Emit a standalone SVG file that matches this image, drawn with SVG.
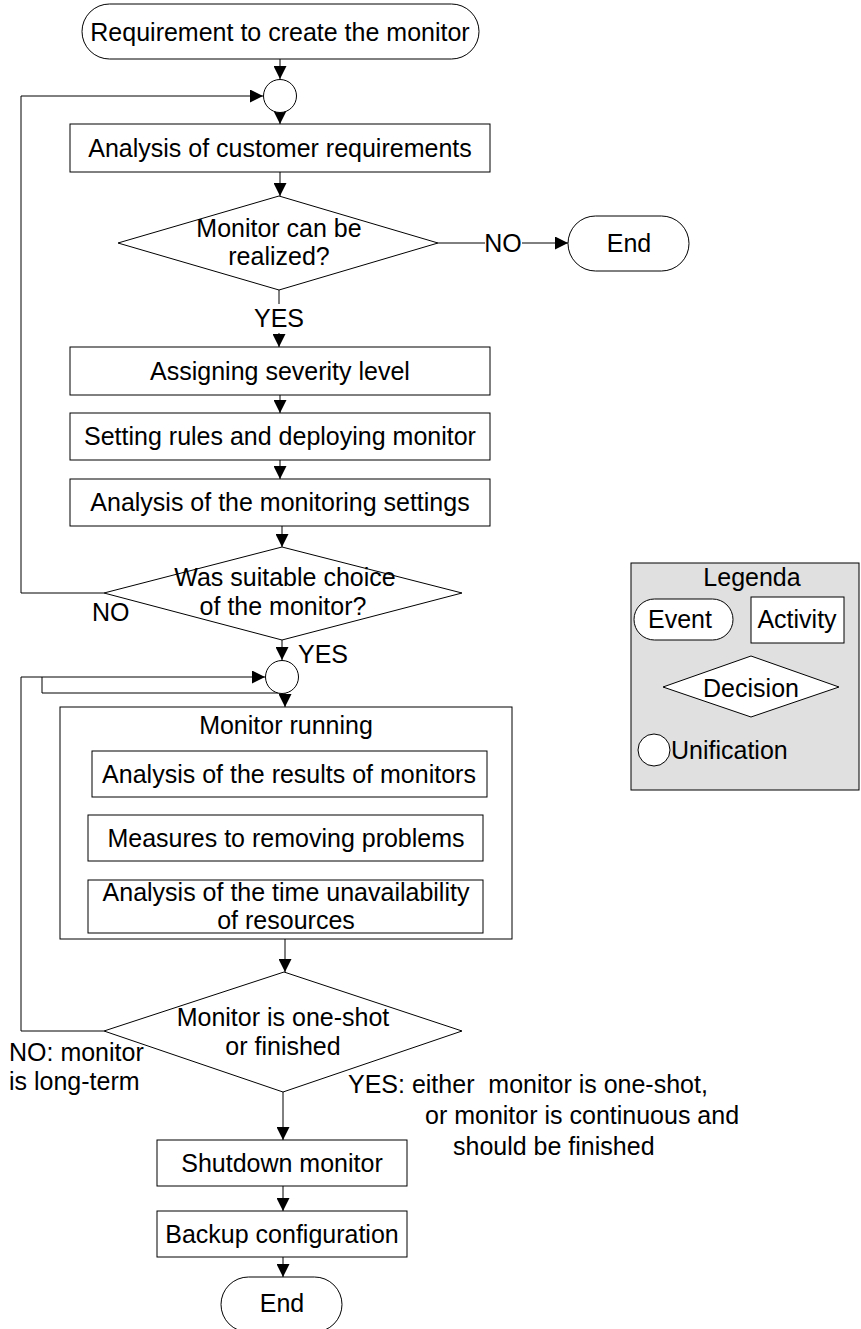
<svg xmlns="http://www.w3.org/2000/svg" width="861" height="1329" viewBox="0 0 861 1329">
<style>
.s{fill:#fff;stroke:#000;stroke-width:1}
.c{fill:none;stroke:#000;stroke-width:1}
.t{font-family:"Liberation Sans",Arial,sans-serif;font-size:25px;fill:#000;text-anchor:middle}
.l{font-family:"Liberation Sans",Arial,sans-serif;font-size:25px;fill:#000;text-anchor:start}
</style>
<defs>
<marker id="ah" viewBox="0 -6.5 13 13" refX="13" refY="0" markerUnits="userSpaceOnUse" markerWidth="13" markerHeight="13" orient="auto">
<path d="M0,-6.5 L13,0 L0,6.5 z" fill="#000"/>
</marker>
</defs>
<rect width="861" height="1329" fill="#fff"/>
<g id="connectors">
<path class="c" d="M280,59 V79" marker-end="url(#ah)"/>
<path class="c" d="M104,593 H21 V96 H263" marker-end="url(#ah)"/>
<path class="c" d="M280,113 V124" marker-end="url(#ah)"/>
<path class="c" d="M280,172 V196" marker-end="url(#ah)"/>
<path class="c" d="M438,243 H485"/>
<path class="c" d="M522,243 H568" marker-end="url(#ah)"/>
<path class="c" d="M279,290 V304"/>
<path class="c" d="M279,333 V347" marker-end="url(#ah)"/>
<path class="c" d="M280,395 V413" marker-end="url(#ah)"/>
<path class="c" d="M280,460 V479" marker-end="url(#ah)"/>
<path class="c" d="M282,526 V547" marker-end="url(#ah)"/>
<path class="c" d="M282,640 V660" marker-end="url(#ah)"/>
<path class="c" d="M104,1031 H21 V677 H265" marker-end="url(#ah)"/>
<path class="c" d="M42,677 V693 H282"/>
<path class="c" d="M285,693 V707" marker-end="url(#ah)"/>
<path class="c" d="M286,797 V815" marker-end="url(#ah)"/>
<path class="c" d="M286,861 V880" marker-end="url(#ah)"/>
<path class="c" d="M285,939 V972" marker-end="url(#ah)"/>
<path class="c" d="M283,1092 V1140" marker-end="url(#ah)"/>
<path class="c" d="M283,1186 V1211" marker-end="url(#ah)"/>
<path class="c" d="M283,1257 V1277" marker-end="url(#ah)"/>
<text class="t" x="503" y="252">NO</text>
<text class="t" x="279" y="327">YES</text>
<text class="l" x="92" y="621">NO</text>
<text class="l" x="298" y="663">YES</text>
<text class="l" x="9" y="1061">NO: monitor</text>
<text class="l" x="9" y="1090">is long-term</text>
<text class="l" x="348" y="1093" xml:space="preserve">YES: either  monitor is one-shot,</text>
<text class="l" x="425" y="1124">or monitor is continuous and</text>
<text class="l" x="453" y="1155">should be finished</text>
</g>
<g id="start">
<rect class="s" x="82" y="4" width="397" height="55" rx="27.5"/>
<text class="t" x="280" y="41">Requirement to create the monitor</text>
</g>
<g id="join1"><circle class="s" cx="280" cy="96" r="16.5"/></g>
<g id="analysis-customer">
<rect class="s" x="70" y="124" width="420" height="48"/>
<text class="t" x="280" y="157">Analysis of customer requirements</text>
</g>
<g id="decision-realized">
<polygon class="s" points="118,243 279,196 438,243 279,290"/>
<text class="t" x="279" y="237">Monitor can be</text>
<text class="t" x="279" y="265">realized?</text>
</g>
<g id="end1">
<rect class="s" x="568" y="216" width="121" height="55" rx="27.5"/>
<text class="t" x="629" y="252">End</text>
</g>
<g id="severity">
<rect class="s" x="70" y="347" width="420" height="48"/>
<text class="t" x="280" y="380">Assigning severity level</text>
</g>
<g id="rules">
<rect class="s" x="70" y="413" width="420" height="47"/>
<text class="t" x="280" y="445">Setting rules and deploying monitor</text>
</g>
<g id="analysis-settings">
<rect class="s" x="70" y="479" width="420" height="47"/>
<text class="t" x="280" y="511">Analysis of the monitoring settings</text>
</g>
<g id="decision-suitable">
<polygon class="s" points="104,593 282,547 462,593 282,640"/>
<text class="t" x="285" y="586">Was suitable choice</text>
<text class="t" x="283" y="615">of the monitor?</text>
</g>
<g id="join2"><circle class="s" cx="282" cy="677" r="16.5"/></g>
<g id="monitor-running">
<rect class="s" x="60" y="707" width="452" height="232"/>
<text class="t" x="286" y="734">Monitor running</text>
</g>
<g id="analysis-results">
<rect class="s" x="92" y="751" width="395" height="46"/>
<text class="t" x="289" y="783">Analysis of the results of monitors</text>
</g>
<g id="measures">
<rect class="s" x="88" y="815" width="395" height="46"/>
<text class="t" x="286" y="847">Measures to removing problems</text>
</g>
<g id="analysis-time">
<rect class="s" x="88" y="880" width="395" height="53"/>
<text class="t" x="286" y="901">Analysis of the time unavailability</text>
<text class="t" x="286" y="929">of resources</text>
</g>
<g id="decision-oneshot">
<polygon class="s" points="104,1031 284,972 462,1031 283,1092"/>
<text class="t" x="283" y="1026">Monitor is one-shot</text>
<text class="t" x="283" y="1055">or finished</text>
</g>
<g id="shutdown">
<rect class="s" x="157" y="1140" width="250" height="46"/>
<text class="t" x="282" y="1172">Shutdown monitor</text>
</g>
<g id="backup">
<rect class="s" x="157" y="1211" width="250" height="46"/>
<text class="t" x="282" y="1243">Backup configuration</text>
</g>
<g id="end2">
<rect class="s" x="221" y="1277" width="121" height="55" rx="27.5"/>
<text class="t" x="282" y="1312">End</text>
</g>
<g id="legend">
<rect x="631" y="563" width="228" height="227" fill="#e0e0e0" stroke="#000" stroke-width="1"/>
<text class="t" x="752" y="586">Legenda</text>
<rect class="s" x="634" y="599" width="99" height="41" rx="20.5"/>
<text class="t" x="680" y="628">Event</text>
<rect class="s" x="751" y="597" width="93" height="46"/>
<text class="t" x="797" y="628">Activity</text>
<polygon class="s" points="663,687 751,656 839,687 751,717"/>
<text class="t" x="751" y="697">Decision</text>
<circle class="s" cx="654" cy="750" r="16"/>
<text class="l" x="671" y="759">Unification</text>
</g>
</svg>
